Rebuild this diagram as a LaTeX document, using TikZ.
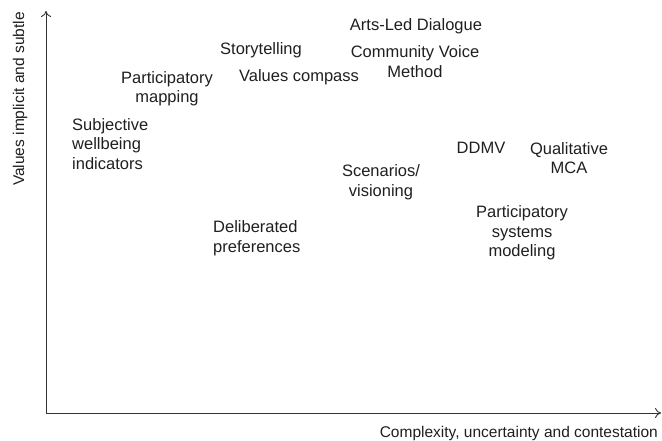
\documentclass[tikz,border=0pt]{standalone}
\usepackage{fontspec}
\setmainfont{Liberation Sans}
\usetikzlibrary{arrows.meta}
\tikzset{
  lbl/.style={inner sep=0pt, align=center, text=black!88, font=\fontsize{16.5bp}{19.5bp}\selectfont},
  lbll/.style={lbl, align=left},
  axis/.style={draw=black!80, line width=0.9bp, -{To[length=6bp,width=10bp]}},
  axlbl/.style={inner sep=0pt, text=black!88, font=\fontsize{15.5bp}{18bp}\selectfont}
}
\begin{document}
\begin{tikzpicture}[x=1bp,y=-1bp]
\useasboundingbox (0,0) rectangle (662,441);
\coordinate (o) at (46,413);
\coordinate (ytop) at (46,11);
\coordinate (xend) at (661,413);
\draw[axis] (o) -- (ytop);
\draw[axis] (o) -- (xend);
\node[axlbl, anchor=base east] (xl) at (658,437) {Complexity, uncertainty and contestation};
\node[axlbl, rotate=90, anchor=base east] (yl) at (24,12) {Values implicit and subtle};

\node[lbl] (arts) at (416,26) {Arts-Led Dialogue};
\node[lbl] (cvm) at (415,61.5) {Community Voice\\Method};
\node[lbl] (story) at (261,50) {Storytelling};
\node[lbl] (vc) at (299,77) {Values compass};
\node[lbl] (pm) at (167,88.5) {Participatory\\mapping};
\node[lbll, anchor=west] (swi) at (72,144) {Subjective\\wellbeing\\indicators};
\node[lbl] (scen) at (381,182) {Scenarios/\\visioning};
\node[lbl] (ddmv) at (481,148) {DDMV};
\node[lbl] (qmca) at (569,158) {Qualitative\\MCA};
\node[lbl] (psm) at (522,233) {Participatory\\systems\\modeling};
\node[lbll, anchor=west] (dp) at (213,238) {Deliberated\\preferences};
\end{tikzpicture}
\end{document}
